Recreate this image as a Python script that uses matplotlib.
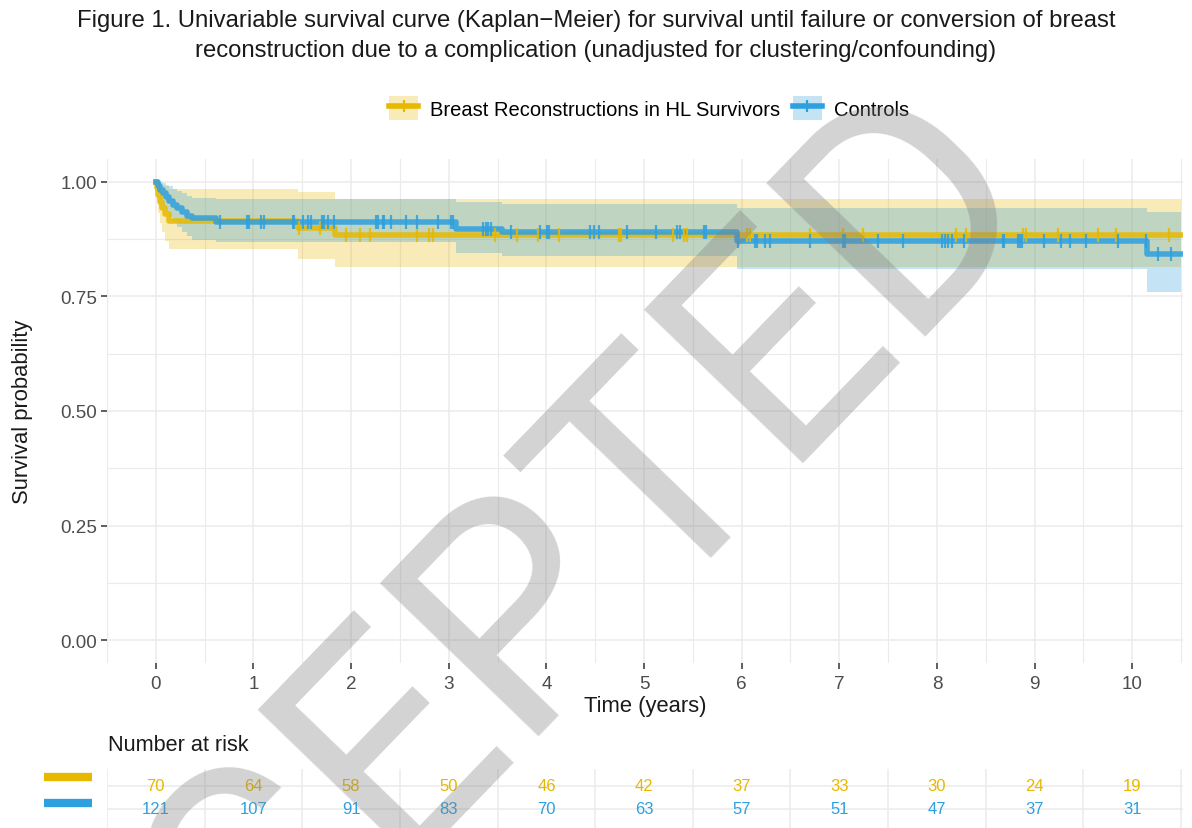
import numpy as np
import matplotlib
matplotlib.use("Agg")
import matplotlib.pyplot as plt
from matplotlib.patches import Patch
from matplotlib.lines import Line2D

plt.rcParams['font.family'] = ['Liberation Sans', 'DejaVu Sans']

# ---- data ----
groups = ["Breast Reconstructions in HL Survivors", "Controls"]
colors = ["#E7B800", "#2E9FDF"]
end_time = 10.5

hl_time = [0, 0.01, 0.02, 0.04, 0.06, 0.09, 0.13, 1.46, 1.83]
hl_surv = [1.0, 0.986, 0.971, 0.957, 0.943, 0.929, 0.914, 0.900, 0.885]
hl_upper = [1.0, 1.0, 1.0, 0.998, 0.994, 0.990, 0.985, 0.978, 0.963]
hl_lower = [1.0, 0.958, 0.933, 0.911, 0.891, 0.871, 0.853, 0.832, 0.814]
hl_cens = [1.47, 1.68, 1.95, 2.09, 2.19, 2.68, 2.80, 2.84, 3.47, 3.70, 3.91, 4.13,
           4.74, 4.76, 5.30, 5.41, 5.44, 6.05, 6.09, 6.70, 7.04, 7.24, 8.20, 8.30,
           8.88, 8.91, 9.24, 9.65, 9.83, 10.38]

bl_time = [0, 0.02, 0.04, 0.07, 0.10, 0.14, 0.18, 0.22, 0.27, 0.32, 0.37, 0.62,
           3.07, 3.55, 5.95, 10.15]
bl_surv = [1.0, 0.992, 0.983, 0.975, 0.967, 0.958, 0.950, 0.942, 0.934, 0.926,
           0.921, 0.912, 0.897, 0.891, 0.872, 0.843]
bl_upper = [1.0, 1.0, 1.0, 0.998, 0.994, 0.990, 0.985, 0.980, 0.975, 0.970,
            0.965, 0.962, 0.956, 0.952, 0.942, 0.934]
bl_lower = [1.0, 0.976, 0.960, 0.947, 0.935, 0.923, 0.912, 0.901, 0.891, 0.881,
            0.874, 0.868, 0.845, 0.838, 0.810, 0.760]
bl_cens = [0.66, 0.93, 0.95, 1.08, 1.11, 1.41, 1.42, 1.51, 1.56, 1.59, 1.70, 1.72,
           1.76, 1.82, 2.26, 2.28, 2.33, 2.34, 2.41, 2.56, 2.67, 2.89, 3.02, 3.04,
           3.35, 3.38, 3.40, 3.43, 3.64, 3.93, 4.01, 4.03, 4.45, 4.49, 4.54, 4.83,
           5.12, 5.34, 5.37, 5.61, 5.63, 5.96, 6.14, 6.16, 6.24, 6.29, 6.70, 7.04,
           7.06, 7.40, 7.65, 8.05, 8.08, 8.11, 8.15, 8.28, 8.68, 8.69, 8.83, 8.85,
           8.87, 9.10, 9.27, 9.36, 9.53, 9.85, 10.14, 10.26, 10.40]

risk_times = list(range(0, 11))
hl_risk = [70, 64, 58, 50, 46, 42, 37, 33, 30, 24, 19]
bl_risk = [121, 107, 91, 83, 70, 63, 57, 51, 47, 37, 31]

title = ("Figure 1. Univariable survival curve (Kaplan\u2212Meier) for survival until failure or conversion of breast\n"
         "reconstruction due to a complication (unadjusted for clustering/confounding)")

W, H = 1192, 829


def box(left, top, right, bottom):
    return [left / W, 1 - bottom / H, (right - left) / W, (bottom - top) / H]


fig = plt.figure(figsize=(W / 100, H / 100), dpi=100)
fig.text(0.5, 1 - 36 / H, title, ha="center", va="center", fontsize=17.2,
         color="#1a1a1a", linespacing=1.48)

ax = fig.add_axes(box(107, 160, 1183, 664))
xlim = (-0.48, 10.52)


def extend(t, v):
    return np.append(t, end_time), np.append(v, v[-1])


series = [(hl_time, hl_surv, hl_upper, hl_lower, hl_cens),
          (bl_time, bl_surv, bl_upper, bl_lower, bl_cens)]
for (t, s, up, lo, cens), col in zip(series, colors):
    tt, ss = extend(t, s)
    _, uu = extend(t, up)
    _, ll = extend(t, lo)
    ax.fill_between(tt, ll, uu, step="post", color=col, alpha=0.28, lw=0)

for (t, s, up, lo, cens), col in zip(series, colors):
    tt, ss = extend(t, s)
    ax.step(tt, ss, where="post", color=col, lw=4, alpha=0.85, zorder=3)
    idx = np.searchsorted(t, cens, side="right") - 1
    ax.plot(cens, np.asarray(s)[idx], ls="none", marker="|", ms=9.5, mew=1.6,
            color=col, alpha=0.85, zorder=4)

ax.set_xlim(*xlim)
ax.set_ylim(-0.05, 1.05)
ax.set_xticks(range(0, 11))
ax.set_xticks(np.arange(-0.5, 10.6, 1), minor=True)
ax.set_yticks([0, 0.25, 0.5, 0.75, 1.0])
ax.set_yticklabels(["0.00", "0.25", "0.50", "0.75", "1.00"])
ax.set_yticks([0.125, 0.375, 0.625, 0.875], minor=True)
ax.grid(which="major", color="#EBEBEB", lw=1.1)
ax.grid(which="minor", color="#EBEBEB", lw=0.8)
ax.set_axisbelow(True)
for sp in ax.spines.values():
    sp.set_visible(False)
ax.tick_params(which="major", length=4, width=1.1, color="#333333",
               labelcolor="#4D4D4D", labelsize=13.6, pad=3)
ax.tick_params(which="major", axis="x", pad=5)
ax.tick_params(which="minor", length=0)
ax.set_xlabel("Time (years)", fontsize=15.8, color="#1a1a1a", labelpad=2)
ax.set_ylabel("Survival probability", fontsize=15.8, color="#1a1a1a", labelpad=20)

handles = []
for col in colors:
    handles.append((Patch(facecolor=col, alpha=0.28, lw=0),
                    Line2D([], [], color=col, lw=4, marker="|", ms=9, mew=1.6)))
fig.legend(handles, groups, loc="center", bbox_to_anchor=(649 / W, 1 - 109 / H),
           ncol=2, frameon=False, fontsize=14.5, handlelength=1.45, handleheight=1.4,
           handletextpad=0.6, columnspacing=0.6)

# risk table
fig.text(108 / W, 1 - 746 / H, "Number at risk", ha="left", va="center",
         fontsize=15.6, color="#1a1a1a")
tab = fig.add_axes(box(107, 770, 1183, 829))
tab.set_xlim(*xlim)
tab.set_ylim(0.17, 2.74)
tab.set_xticks(np.arange(-0.5, 10.6, 1))
tab.set_yticks([1, 2])
tab.grid(color="#EBEBEB", lw=1.1)
tab.set_axisbelow(True)
tab.tick_params(length=0, labelbottom=False, labelleft=False)
for sp in tab.spines.values():
    sp.set_visible(False)
for row, (risk, col, bar_off) in enumerate(zip([hl_risk, bl_risk], colors, [0.4, 0.25])):
    y = 2 - row
    for t, n in zip(risk_times, risk):
        tab.text(t, y, str(n), ha="center", va="center", fontsize=12, color=col)
    tab.plot([-1.15, -0.65], [y + bar_off, y + bar_off], color=col, lw=6,
             solid_capstyle="butt", clip_on=False)

# watermark
fig.text(452 / W, 1 - 700 / H, "ACCEPTED", rotation=46, rotation_mode="anchor",
         ha="center", va="center", fontsize=223, color="#808080", alpha=0.35,
         zorder=100, family=["Liberation Sans Narrow", "Roboto", "DejaVu Sans"])

fig.savefig("out.png", dpi=100)
